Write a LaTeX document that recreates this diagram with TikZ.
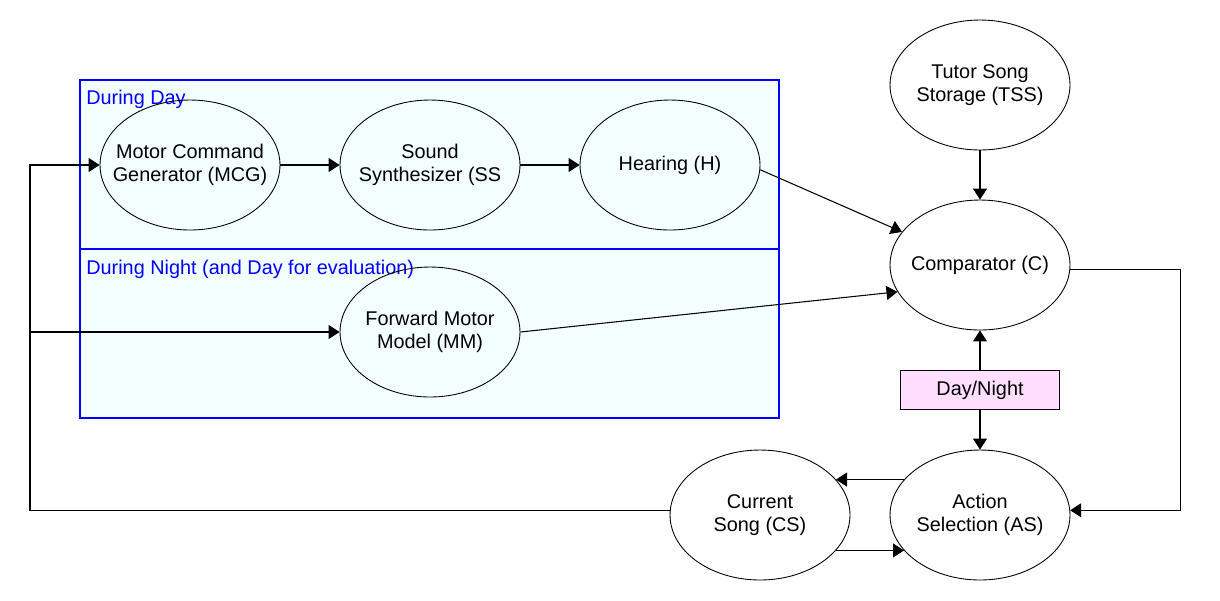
\documentclass[tikz,border=0pt]{standalone}
\usepackage{fontspec}
\setmainfont{Liberation Sans}
\usepackage{xcolor}
\usetikzlibrary{shapes.geometric,arrows.meta}
\definecolor{boxfill}{HTML}{F4FFFF}
\definecolor{boxline}{HTML}{0000FF}
\definecolor{dnfill}{HTML}{FFDEFF}

\begin{document}
\begin{tikzpicture}[x=0.02cm, y=-0.02cm,
  font=\fontsize{11.3}{12.9}\selectfont,
  blk/.style={ellipse, draw, line width=0.5pt, minimum width=3.6cm, minimum height=2.6cm, inner xsep=-1.2cm, inner ysep=-0.8cm, align=center},
  arr/.style={-{Triangle[length=0.22cm,width=0.28cm]}, line width=0.6pt}]
\useasboundingbox (0,0) rectangle (1220,600);
% phases
\draw[boxline, fill=boxfill, line width=0.8pt] (80,80) rectangle (779,249);
\draw[boxline, fill=boxfill, line width=0.8pt] (80,249) rectangle (779,418);
\node[text=boxline, anchor=base west, inner sep=0pt] (day) at (86,104) {During Day};
\node[text=boxline, anchor=base west, inner sep=0pt] (night) at (86,274) {During Night (and Day for evaluation)};
% day
\node[blk] (mcg) at (190,165) {Motor Command\\Generator (MCG)};
\node[blk] (ss) at (430,165) {Sound\\Synthesizer (SS};
\node[blk] (h) at (670,165) {Hearing (H)};
% night
\node[blk] (mm) at (430,332) {Forward Motor\\Model (MM)};
% right side
\node[blk] (tss) at (980,85) {Tutor Song\\Storage (TSS)};
\node[blk] (c) at (980,265) {Comparator (C)};
\node[draw, fill=dnfill, line width=0.5pt, minimum width=3.18cm, minimum height=0.78cm, inner sep=0pt] (dn) at (980,390) {Day/Night};
\node[blk] (as) at (980,515) {Action\\Selection (AS)};
\node[blk] (cs) at (760,515) {Current\\Song (CS)};
\coordinate (split) at (30,332);
% connectors
\draw[arr] (mcg) -- (ss);
\draw[arr] (ss) -- (h);
\draw[arr] (h.-3) -- (c.157);
\draw[arr] (mm.east) -- (c.198);
\draw[arr] (tss) -- (c);
\draw[arr] (dn) -- (c);
\draw[arr] (dn) -- (as);
\draw[arr] (c.-3) -- ++(110,0) |- (as.3);
\draw[arr] (as.155) -- (cs.25);
\draw[arr] (cs.-25) -- (as.205);
\draw[arr] (cs.177) -| (split) |- (mcg.west);
\draw[arr] (split) -- (mm.west);
\end{tikzpicture}
\end{document}
